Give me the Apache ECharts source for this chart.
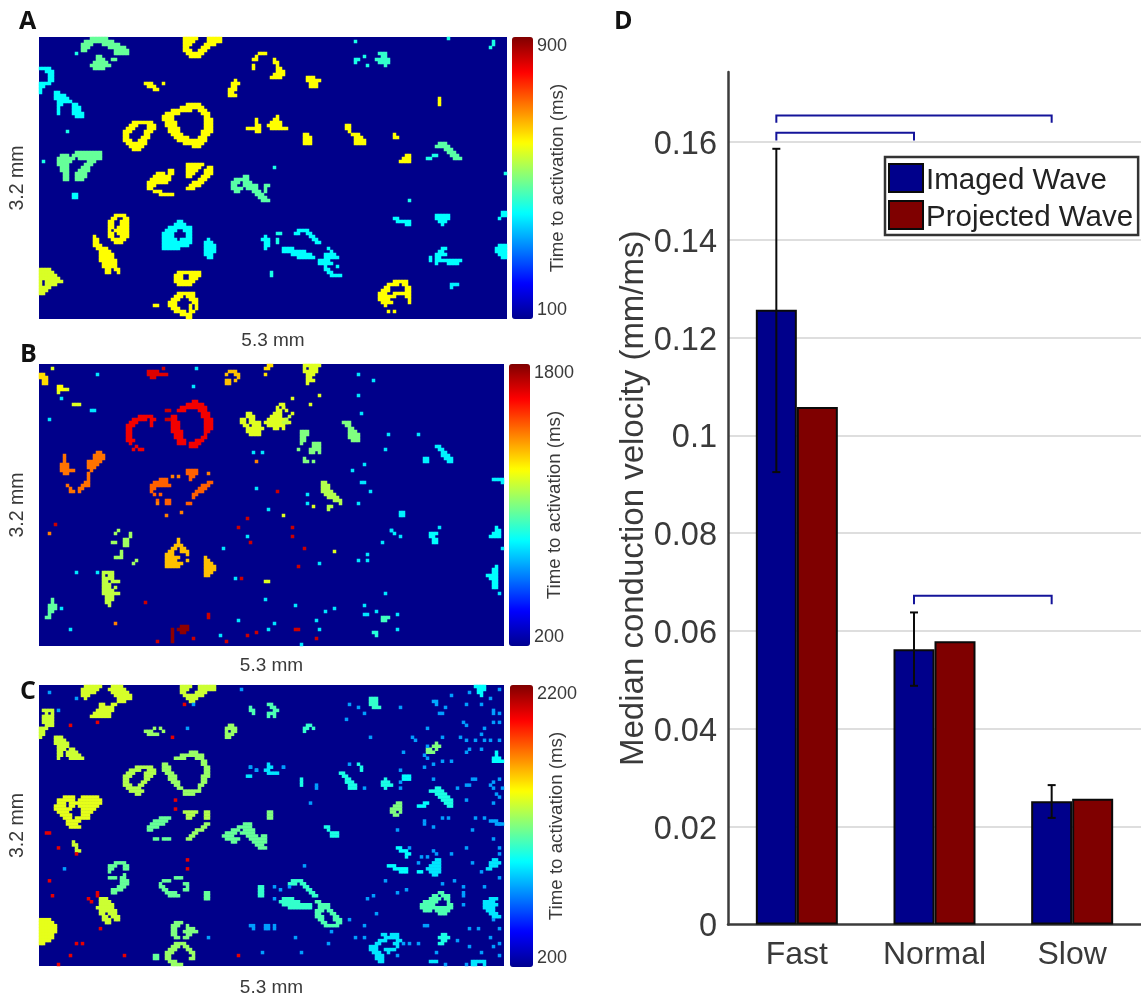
<!DOCTYPE html>
<html><head><meta charset="utf-8">
<style>html,body{margin:0;padding:0;background:#fff}#c{width:1141px;height:998px}</style>
<script src="https://cdn.jsdelivr.net/npm/echarts@6/dist/echarts.min.js"></script>
</head><body><div id="c"></div>
<script>
// Activation maps. Each blob: [time ms, first row, "col-col col|next row|..."]
const panelABlobs = [
[480,0,"17-22|15-24|14-17 21-26|14-16 23-28|14-15 25-29|25-29|19-20|19-21 24-25|18-22|17-23|18-21"],
[600,0,"48-52 56-60|48-51 56-60|48-50 55-58|48-49 54-56|48-50 53-55|49-54|50-53"],
[600,5,"73-75|72|71-72 78|78-79|71 79|71 79-80|79-81|78-81|77-80"],
[400,10,"0-3|2-4|3-4|3-4|3-4|0-3|0-1|0|0"],
[400,18,"5-6|5-8|5-9|6-10|6-7 11-12|6 11-13|6 11-13|6 11-14|12-14"],
[600,15,"35-37 41|36-38|38-39"],
[600,14,"65|64-66|64-65|63-65|63-64|63-65"],
[600,28,"31-37|30-32 36-38|29-31 36-38|28-30 35-37|28-29 35-36|28-29 34-36|28-30 33-35|29-35|30-34|31-33"],
[600,22,"49-53|47-54|44-50 53-55|42-46 54-56|41-44 55-56|41-44 55-57|42-45 55-57|42-45 55-57|43-46 55-57|43-46 54-57|44-47 54-56|45-49 53-55|46-55|48-54|51-53"],
[600,26,"79|78-79 72|77-80 72|72-73 76-80|69-73 77-82|72-73"],
[480,38,"12-20|7-9 11-20|6-11 13-20|6-10 16-18|6-9 15-17|7-9 14-16|7-9 13-16|8-9 12-15|8-9 12-15|8-9 12-14"],
[600,42,"49-54|49-53|49-52|49-51|49-50"],
[600,44,"43-44|39-41 43-44|38-43|37-43|36-42|36-38|36-37|38-40|40-44"],
[600,43,"56-57|55-57|55-57|54-56|53-55|51-54|50-53|49-51"],
[470,46,"68-69|65-69|64-66 68-70|64-65 68-72 75-76|64-67 69-72 75|65-66 71-73 75|72-74|73-75|74-76"],
[400,52,"11-12|11-12"],
[600,59,"25-28|24-25 28-29|23-24 27-29|23-24 27-29|23-24 26-29|23 25-29|23-24 26-29|23-24 27-29|24-28|25-27"],
[600,66,"18|18-19|18-19|18-20|19-22|20-23|20-24|20-24|20-25|21-25|21-25|22-23 25-26|22-23 26"],
[400,61,"46-47|45-48|43-50|42-45 48-50|41-44 49-50|41-44 49-50|41-45 47-50|41-46 47-50|41-49|41-46"],
[400,67,"56|55-57|55-58|55-58|55-58|55-57|56-57"],
[400,66,"75|74-76|75-76|75-76|75"],
[570,77,"0-3|0-4|0-5|0-6|0 2-7|0 2-5|0-3|0-2|0-1"],
[600,78,"46-53|45-47 50-53|45-47 50-52|45-51|46-50"],
[600,85,"46-51|45-47 49-51|44-46 50-52|43-45 51-52|43-45 50 52|44-46 50 52|45-48 50-51|47-50|49-50"],
[600,13,"89-91|89-93|90-92|90-92"],
[600,32,"88-89|88-90|88-90|88-90"],
[600,29,"102-103|102-103|103|104-106|105-107|105-108|105-108"],
[600,32,"118|118-119"],
[600,39,"122-123|121-123|120-123"],
[420,39,"131-132|129-130"],
[470,35,"133-135|132-136|135-137|136-138|137-139|138-140"],
[440,5,"113-115|114-115|112-116|113-116|115"],
[400,60,"118-119|119-123|122-123"],
[400,59,"132-136|132-136|133-135|134"],
[400,58,"154-156|154-155|153"],
[400,69,"153-155|152-155|152-155|153-155|154-155"],
[400,70,"134-135|133-134|132-135|130 132-133|130 132-137 138-140|132 136-137 138-139"],
[390,82,"137-139|137"],
[400,64,"86-89|85-86 89-90|90-91|91-92|92-93"],
[400,70,"81-84|81-88|84-90|86-91"],
[400,70,"96|97|95-98|95-99|93-96|93-97|95 99|95-96|96-97|97-100"],
[600,81,"118-122|116-119 121-122|115-116 122-123|114-116 122-123|113-115 118-123|113-118 122-123|113-116 123|114-117 123|115"]
];
const panelADots = [[420,"12,5 9,31 1,41 78,43 105,7 106,7 105,8 108,6 109,9 105,1 136,0 151,1 151,2 150,3 123,54 155,45 79,65 80,65 79,67 79,68 77,78 77,79"],[600,"38,89 39,89 133,20 133,21 133,22 116,91 118,91"]];

const panelBBlobs = [
[1250,3,"0-1|0-2|1-2|1-2"],[1200,7,"6-7 |6-8"],[1650,2,"36-39|36-39 40-42|37-38"],
[1300,2,"63-65|62 65-66|66|62-63 65|62-63"],[1250,0,"76-77|75-76||75"],
[1620,17,"33-37|31-35 37-38|30-32 37|29-31 37|29-30|29-30|29-30|29-30|29-31|30|32|31 33-34"],
[1620,12,"51-52|49-54|47-55|46-48 53-55|54-56|44-45 54-56|44-45 55-57|44-46 55-57|44-46 55-57|44-46 55-57|44-47 55-56|45-47 55|45-47 54-55|46-48 52-54|46-48 50-53|50-52"],
[1150,16,"69-70|69-71|67-68 70-71|67-68 70-73|68-69 71-73|69-74|69-73|70-73"],
[1150,13,"80-81|79 81|79-80 82|78-80|77-80|76-82|75-83|76-81|78-79 81"],
[1150,0,"88-93|88 90-92|88-92|89-91|89-90|89-90|89"],
[1100,17,"83|82|81-82"],
[1420,30,"8|8|8|7-9|7-9|7-11|8-9"],[1420,29,"19-20|18-21|18-21|16-20|16-19|16-18|17"],
[1420,36,"16|16|16|15-16|9 14-16|10 13-14|10-11 13"],
[1450,38,"40-42|38-42|37-43|37-38|37|38 40||42-43 39|42-43"],
[1450,35,"49-52|49-52|50-51|50"],[1450,39,"56-57|54-56|53-55|52-54|51-52|51||49-50"],
[1050,55,"26|25 30|30|28-29|24-25 28-29|28-29||27|27|25-27|32|31"],
[1300,58,"46|46|45-47|44-45 47-48|43-44 47-49|42-44 49|42-46|42-45 49|42-47|42-46"],
[1300,64,"55|55-56|55-57|55-58|55-58|55-57|55-56"],
[1100,69,"21-24|21 23-24|21-24|21-22 24-26|21-23|21-23 25|21-24|21-26|22-24|22-24|22-23|23"],
[950,78,"4|4|3-5|3-5|3-4|3|2-3"],
[1780,87,"47-49|44 46-49|44 47-48|44|44|44"],
[1000,19,"101-103|102-103|103-104|103-105|103-106|103-106|104-106"],
[1000,22,"87-89|87-89|87-88|87-88|87 91-93|91-93|86 90-93|90-91 93||88|88-89 91"],
[1080,39,"94-95|94-96|94-96|94-97|95-98|96-99|98-100|100|96-97|96"],
[780,27,"132-133|133-134|134-135|134-136|135-137 128-129|136-137 128-129"],
[780,38,"151-154|154"],[780,49,"120-121|120-121"],[780,55,"117|118"],
[800,56,"130-132|130-131|131-132|131-132"],[800,54,"152|152-153|151-153|150-153"],
[800,67,"152|151-152|151-152|149-152|150-152|151-152|151-152|151-152"],
[900,84,"114-116|114-115"],[860,89,"111-112|112"]
];
const panelBDots = [
[1150,"4,1 9,8 6,9 11,13 12,13 13,13 75,72 76,72 98,62 81,50 81,14 91,5 93,10 84,11 90,13 84,16 91,47"],
[760,"7,11 17,15 18,15 19,3 3,18 52,1 51,7 71,29 74,29 72,41 76,48 61,61 10,88 66,85 76,88 78,86 60,90 12,69 19,69 7,81 65,71 75,78 89,43 89,46 93,66 85,80 95,82 92,85 93,88 87,93 106,3 111,5 106,10 107,16 116,23 115,28 126,23 104,35 108,33 107,39 108,39 110,42 106,46 117,55 120,57 114,59 133,54 154,61 155,61 109,63 106,65 109,65 153,76 115,76 108,80 108,83 109,83 112,82 119,83 119,88 69,57 98,81"],
[1680,"41,1 42,15 43,15 42,18 43,18 79,42 69,51 70,59 66,54 5,53 35,79 56,83 56,84 39,92 51,91 62,92 67,71 69,90 72,89 84,54 84,57 88,61 86,67 85,88 86,88 92,91"],
[1400,"3,56 72,32 42,50 47,49 44,37 46,37 39,46 25,86 56,36"]
];

const panelCBlobs = [
[1370,0,"15-20 24-27|14-19 23-28|14-18 24-29|14-16 25-30|15 26-30|26-28|20-21 24-25|20-24|19-24|18-23|17-23"],
[1350,0,"47-50 53-58|47-49 53-58|47-48 52-55|48-50 51-54|49-52|50-51"],
[1350,8,"1-4|2 4|1-2 3-4|1-2 3-4|1-4|2-4|0-2|0-1|0-1|0"],
[1350,17,"5-7|5-8|5-9|6-9|6-8 10-11|6-7 9-12|6-7 9-13|6 10-14"],
[1250,14,"38 40|35-37 41|36-39"],[1250,13,"63-64|62-65|62 64-65|62-64|62-63"],
[1300,27,"32-37|30-33 36-38|29-31 35-38|28-30 35-37|28-29 35-36|28-29 34-35|28-30 33-34|29-33|30-34|32-33"],
[1250,22,"50-52|47-54|45-48 52-54|54-55|41-42 54-55|41-43 55-56|41-43 55-56|42-44 55-56|43-45 54-56|43-45 54-55|44-46 54-55|45-46 53-54|46-47 53|48-53|48-51"],
[1100,6,"76-77|70 77-78|70-71 78-79|71 76-78|76 78"],
[900,26,"76|76-77 70|75-76 72|76-79|69-70"],
[1400,37,"8-11 14-19|6-11 13-20|6-8 10-20|5-8 10-11 13-19|5-10 14-18|6-9 14-17|7-10 14-16|8-10 12-16|9-13|9-12|10-13"],
[1200,42,"76-77|76-77|76-77"],
[1150,44,"40-43|38-42|37-41|36-39|36-37||| 38-39 41-43"],
[1300,42,"48-52 55-56|49-51 55-56|49-50 55-56"],[1250,46,"55-56|54-55|52-54|51-52|50-51|49-50"],
[1150,46,"68-70|66-70|64-66 68-71|62-65 67-71|61-64 69-72 74-75|62-66 70-73 74-75|64-65 71-73 74-75|72-74|73-75"],
[1350,52,"11|11-12|12|12-13"],
[1150,59,"25-28|23-25 28-29|23-24 28-29|23|28|23-25 27-28|27-29|27-29|26-28|24-27|24-25"],
[1150,64,"45-47|41-43|40 48-49|40-41 49|41-42 48-49|42-45|43-46"],[1150,69,"55-56|55-56|55-56"],
[1350,71,"20-22|20-23|20-24|19-24|20-21 22-25|20-21 23-25|21-22 24-26|21-23 25-26|22-23"],
[1400,78,"0-3|0-4|0-5|0-5|0-5|0-4|0-4|0-3|0-1"],
[1200,79,"45-47|44-46 49|44-45 49-51|44-45 48-52|44-45 49-50|45-46 48-49"],
[1250,86,"45-48|44-46 48-49|43-45 49-50|42-44 50-51|42-43 51|42-43 50-51|43-45|44-47"],
[1150,90,"38-39|38-39"],
[1050,67,"73-74|73-74|73-74|73-74"],
[1050,71,"81-84|80-86|81-90|83-90"],
[950,0,"145-148|146-148|146-147|147"],[1050,4,"110-112|110-112|110-112|111-113"],[1050,13,"89-90|88-89 91|88"],
[1000,29,"100-101|101-102|102-103|102-104|103-105|103-105"],[1000,26,"106|107|107"],
[1000,31,"87 115|87 114-116|87 114-117|115"],[950,30,"121-123|121-123"],
[1200,19,"132|131-133|129-130 132|129-131"],[1200,39,"119-120|118-120|117-120|117-118 120|118-119"],
[950,39,"128-129|126-128"],[1000,34,"132-133|130-134|132-135|133-136|134-137|135-137|136-137"],
[950,22,"152|152|151-153|151-154"],[1000,47,"95-96|96|97-99|97-99"],[950,54,"119-120|120-122|122-123|122"],
[950,60,"116-118|118-122|120-122 126-127"],[900,58,"132-133|131-133|130-133|129-133|130-133|131-132"],
[900,58,"151-152|150-153|150-152|149-150"],
[1100,69,"133-134|131-132 134-136|130-133 135-136|128-132 136|127-131 136-137|127-133 134-137|128-130 132-136|133-135"],
[900,71,"150-152|148-151|148-152|148-151|149-151|150-152|151-153"],
[1100,72,"92-93|93-96|93-96|92-94 96-97|92-93 97-98|92-94 98-99|93-94 98-100|94-95 99-100|95-99"],
[1050,65,"84-87|83-85 87-88|88-89|89-90|90-91|91-92"],
[900,83,"114-115 117-119|115-119|113-115 119-120|112-113 118-119|110-112 119|110-112 115-118|111-113 116|112-114|112-114|113-114"],
[1000,83,"134-135|133-136|134-135|133-134"],[900,92,"144-148 130-132|144-145 148"],
[780,45,"150-152|152-155"],[780,5,"131-132|132"]
];
const panelCDots = [
[760,"3,2 12,4 67,1 51,6 49,14 6,8 78,67 80,68 83,67 78,71 70,27 72,28 81,27 70,80 71,80 71,81 75,80 76,80 75,81 76,81 78,80 78,81 56,84 74,89 8,61 143,2 137,3 134,9 133,9 135,7 142,6 147,6 150,4 151,8 153,9 151,9 153,1 153,12 151,12 141,12 142,13 148,14 147,16 129,14 124,17 125,18 134,17 140,17 142,18 145,18 148,18 150,18 153,18 143,21 147,21 121,22 128,23 129,24 131,26 128,27 137,25 134,25 142,22 144,31 145,31 131,31 142,33 143,33 139,34 151,32 151,34 153,31 154,34 150,33 152,36 153,37 151,39 142,38 134,44 136,44 145,44 148,44 153,46 144,48 128,46 128,45 131,47 119,48 132,56 137,56 142,54 151,51 153,54 153,56 144,59 147,62 153,64 138,65 141,67 141,69 141,70 134,66 119,69 122,68 115,65 109,71 111,70 141,73 148,67 103,78 112,76 128,80 129,80 143,81 146,81 153,81 151,78 108,80 97,82 105,84 108,84 121,86 123,86 126,86 139,85 143,87 147,89 150,84 151,87 153,86 153,90 132,89 135,93 142,93 119,90 96,86 87,89 85,84 90,39 88,60 81,27 108,34 120,34 120,32 102,11 103,6 106,7 108,9 110,17 120,7 129,20 103,26 120,28 92,33 92,34 123,54 126,59 127,57 129,57 131,55"],
[2000,"10,13 19,12 44,17 48,6 49,58 49,61 3,65 4,70 20,81 14,86 12,86 10,90 6,93 28,90 45,38 45,41 2,49 3,49 6,54 12,56 66,90 16,71 17,72 19,69 19,70"]
];

const panelCols = [156,155,155];
const panelRows = [94,94,94];
const scaleMin = [100,200,200];
const scaleMax = [900,1800,2200];
const jetColors = ['#00008f','#0000ff','#0080ff','#00ffff','#80ff80','#ffff00','#ff8000','#ff0000','#800000'];
const mapBackground = '#00008a';

// Panel D
const speedClasses = ['Fast','Normal','Slow'];
const imagedWave = [0.1257,0.0563,0.0252];
const projectedWave = [0.1058,0.0579,0.0257];
const imagedHigh = [0.1586,0.0638,0.0285];
const imagedLow = [0.0925,0.0488,0.0218];
const bracketFrom = [0,0,1];
const bracketTo = [2,1,2];
const bracketTop = [0.1654,0.1619,0.0672];
const bracketFoot = [0.1639,0.1603,0.0655];

function expand(blobs, dots){
  const out = [];
  blobs.forEach(([v,start,txt])=>{
    txt.split('|').forEach((row,i)=>{
      row.trim().split(/\s+/).forEach(seg=>{
        if(!seg) return;
        const p = seg.split('-').map(Number);
        for(let c=p[0];c<=(p.length>1?p[1]:p[0]);c++) out.push([c,start+i,v]);
      });
    });
  });
  dots.forEach(([v,txt])=>txt.split(' ').forEach(s=>{const p=s.split(',').map(Number);out.push([p[0],p[1],v]);}));
  return out;
}
const panelData = [expand(panelABlobs,panelADots),expand(panelBBlobs,panelBDots),expand(panelCBlobs,panelCDots)];
const range = n => Array.from({length:n},(_,i)=>i);

const layout = [
 {top:37,bar:512,barW:21,nameGap:15,xGap:12},
 {top:364,bar:509,barW:21,nameGap:15,xGap:10},
 {top:685,bar:510,barW:23,nameGap:14,xGap:12}
];
const grids=[],xAxes=[],yAxes=[],visualMaps=[],series=[];
const smallText = {color:'#3a3a3a',fontFamily:'Liberation Sans'};
layout.forEach((l,i)=>{
  grids.push({left:39,top:l.top,width:panelCols[i]*3,height:panelRows[i]*3,show:true,backgroundColor:mapBackground,borderWidth:0});
  xAxes.push({gridIndex:2*i,type:'category',data:range(panelCols[i]),axisLine:{show:false},axisTick:{show:false},axisLabel:{show:false},splitLine:{show:false},
    name:'5.3 mm',nameLocation:'middle',nameGap:l.xGap,nameMoveOverlap:false,nameTextStyle:{...smallText,fontSize:19}});
  yAxes.push({gridIndex:2*i,type:'category',inverse:true,data:range(panelRows[i]),axisLine:{show:false},axisTick:{show:false},axisLabel:{show:false},splitLine:{show:false},
    name:'3.2 mm',nameLocation:'middle',nameGap:11,nameRotate:90,nameMoveOverlap:false,nameTextStyle:{...smallText,fontSize:19.5}});
  series.push({type:'heatmap',xAxisIndex:2*i,yAxisIndex:2*i,data:panelData[i],progressive:0,animation:false,emphasis:{disabled:true},silent:true});
  grids.push({left:l.bar,top:l.top,width:l.barW,height:panelRows[i]*3,show:false});
  xAxes.push({gridIndex:2*i+1,type:'value',show:false});
  yAxes.push({gridIndex:2*i+1,type:'value',position:'right',min:scaleMin[i],max:scaleMax[i],
    axisLine:{show:false},axisTick:{show:false},splitLine:{show:false},
    axisLabel:{customValues:[scaleMin[i],scaleMax[i]],formatter:v=>String(v),...smallText,fontSize:18,margin:4,verticalAlignMinLabel:'bottom',verticalAlignMaxLabel:'top'},
    name:'Time to activation (ms)',nameLocation:'middle',nameGap:l.nameGap,nameRotate:90,nameMoveOverlap:false,nameTextStyle:{...smallText,fontSize:18.7}});
  visualMaps.push({type:'continuous',seriesIndex:i,dimension:2,min:scaleMin[i],max:scaleMax[i],left:l.bar,top:l.top,itemWidth:l.barW,itemHeight:panelRows[i]*3,
    padding:0,text:null,calculable:false,showLabel:false,inRange:{color:jetColors},hoverLink:false});
});

const dGrid = grids.length;
grids.push({left:728,top:72,width:417,height:852.5,show:false});
xAxes.push({gridIndex:dGrid,type:'category',data:speedClasses,axisLine:{lineStyle:{color:'#3c3c3c',width:2.5}},axisTick:{show:false},
  axisLabel:{...smallText,fontSize:32,margin:15},splitLine:{show:false}});
yAxes.push({gridIndex:dGrid,type:'value',min:0,max:0.1743,interval:0.02,
  axisLine:{show:true,onZero:false,lineStyle:{color:'#3c3c3c',width:2.5}},axisTick:{show:false},
  axisLabel:{margin:11,showMaxLabel:false,formatter:v=>`{v|${v}}`,
    rich:{v:{...smallText,fontSize:32.5,padding:[6,0,0,0]}}},
  splitLine:{show:true,showMinLine:false,showMaxLine:false,lineStyle:{color:'#dedede',width:2}},
  name:'Median conduction velocity (mm/ms)',nameLocation:'middle',nameGap:78,nameRotate:90,nameMoveOverlap:false,nameTextStyle:{...smallText,fontSize:33}});

const barOpt = {type:'bar',xAxisIndex:dGrid,yAxisIndex:dGrid,barWidth:41,barGap:0,z:3,animation:false};
series.push({...barOpt,name:'Imaged Wave',data:imagedWave,itemStyle:{color:'#00008b',borderColor:'#0a0a0a',borderWidth:2}});
series.push({...barOpt,name:'Projected Wave',data:projectedWave,itemStyle:{color:'#7f0000',borderColor:'#0a0a0a',borderWidth:2}});
series.push({type:'custom',xAxisIndex:dGrid,yAxisIndex:dGrid,z:5,silent:true,animation:false,
  data:speedClasses.map((_,i)=>[i,imagedHigh[i],imagedLow[i]]),encode:{x:0,y:[1,2]},
  renderItem(p,api){
    const a=api.coord([api.value(0),api.value(1)]),b=api.coord([api.value(0),api.value(2)]);
    const x=a[0]-20.5,st={stroke:'#0a0a0a',lineWidth:2,fill:null};
    return {type:'group',children:[
      {type:'line',shape:{x1:x,y1:a[1],x2:x,y2:b[1]},style:st},
      {type:'line',shape:{x1:x-4,y1:a[1],x2:x+4,y2:a[1]},style:st},
      {type:'line',shape:{x1:x-4,y1:b[1],x2:x+4,y2:b[1]},style:st}]};
  }});
series.push({type:'custom',xAxisIndex:dGrid,yAxisIndex:dGrid,z:5,silent:true,animation:false,
  data:bracketFrom.map((f,i)=>[f,bracketTo[i],bracketTop[i],bracketFoot[i]]),encode:{x:[0,1],y:[2,3]},
  renderItem(p,api){
    const t1=api.coord([api.value(0),api.value(2)]),t2=api.coord([api.value(1),api.value(2)]),f=api.coord([api.value(0),api.value(3)]);
    return {type:'polyline',shape:{points:[[t1[0]-20.5,f[1]],[t1[0]-20.5,t1[1]],[t2[0]-20.5,t1[1]],[t2[0]-20.5,f[1]]]},
      style:{stroke:'#14149a',lineWidth:2,fill:null}};
  }});

const panelLetters=[['A',19,9],['B',20,342],['C',20,679],['D',614,9]];
const option={
  animation:false,backgroundColor:'#fff',
  title:panelLetters.map(([t,x,y])=>({text:t,left:x,top:y,padding:0,textStyle:{fontFamily:'Open Sans',fontWeight:'bold',fontSize:25,color:'#111'}})),
  grid:grids,xAxis:xAxes,yAxis:yAxes,visualMap:visualMaps,series,
  legend:{show:true,data:['Imaged Wave','Projected Wave'],orient:'vertical',left:885,top:157,align:'left',
    itemWidth:34,itemHeight:28,itemGap:1,padding:[3,5,2,3],backgroundColor:'#fff',borderColor:'#333',borderWidth:2.5,borderRadius:0,z:10,
    selectedMode:false,icon:'rect',formatter:'{t|{name}}',
    textStyle:{rich:{t:{fontFamily:'Liberation Sans',fontSize:29.5,color:'#222',lineHeight:28,padding:[6,0,0,-2]}}}}
};
echarts.init(document.getElementById('c'),null,{width:1141,height:998,renderer:'canvas'}).setOption(option);
</script></body></html>
